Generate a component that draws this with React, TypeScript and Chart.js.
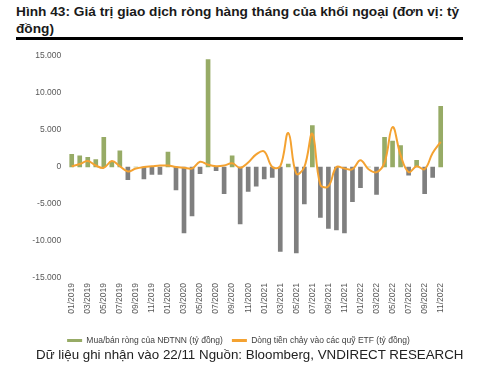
import React, { useEffect, useRef } from "react";
import { Chart, registerables } from "chart.js";

Chart.register(...registerables);

const months: string[] = [];
for (let y = 2019; y <= 2022; y++) {
  for (let m = 1; m <= 12; m++) {
    if (y === 2022 && m > 11) break;
    months.push(`${String(m).padStart(2, "0")}/${y}`);
  }
}

const netForeign = [
  1700, 1500, 1300, 1000, 4000, 700, 2200, -1700, 0, -1600, -1000, -1000,
  2000, -3100, -8900, -6600, -900, 14500, -500, -3600, 1500, -7700, -3300, -2600,
  -1600, -1400, -11400, 400, -11600, -5000, 5600, -6800, -8300, -8500, -8900, -4700,
  -2800, 0, -3700, 4000, 3500, 2900, -1100, 900, -3600, -1400, 8200,
];

const etfFlow = [
  100, 400, 800, 200, -100, 800, 100, -600, -200, 0, 100, 200,
  200, 0, -100, -200, 700, 300, 100, 200, 500, -100, 600, 1700,
  2100, 0, 100, 4600, -900, 0, 4500, -2400, -2600, 0, -200, -300,
  900, -300, -700, 600, 5400, 1600, -700, 100, -300, 1900, 3400,
];

const yTicks = [-15000, -10000, -5000, 0, 5000, 10000, 15000];

const seriesNames = [
  "Mua/bán ròng của NĐTNN (tỷ đồng)",
  "Dòng tiền chảy vào các quỹ ETF (tỷ đồng)",
];

const GREEN = "#97AB66";
const GRAY = "#7F7F7F";
const ORANGE = "#F4A231";
const FONT = "'Liberation Sans', Arial, sans-serif";

function fmt(v: number) {
  const s = Math.abs(v).toString().replace(/\B(?=(\d{3})+(?!\d))/g, ".");
  return v < 0 ? "-" + s : s;
}

export default function App() {
  const ref = useRef<HTMLCanvasElement>(null);
  useEffect(() => {
    document.body.style.margin = "0";
    const ctx = ref.current!;
    const chart = new Chart(ctx, {
      data: {
        labels: months,
        datasets: [
          {
            type: "line",
            label: seriesNames[1],
            data: etfFlow,
            borderColor: ORANGE,
            backgroundColor: ORANGE,
            borderWidth: 2,
            pointRadius: 0,
            tension: 0.4,
            order: 0,
          },
          {
            type: "bar",
            label: seriesNames[0],
            data: netForeign,
            backgroundColor: netForeign.map((v) => (v >= 0 ? GREEN : GRAY)),
            barThickness: 4,
            order: 1,
          },
        ],
      },
      options: {
        animation: false,
        responsive: false,
        layout: { padding: { top: 12, right: 33.3, bottom: 5.25, left: 32.3 } },
        plugins: {
          tooltip: { enabled: false },
          legend: {
            position: "bottom",
            reverse: true,
            labels: {
              font: { family: FONT, size: 8.5 },
              color: "#404040",
              boxWidth: 15,
              boxHeight: 3,
              padding: 9,
              generateLabels: (c: any) =>
                c.data.datasets.map((d: any, i: number) => ({
                  text: d.label,
                  fillStyle: i === 1 ? GREEN : ORANGE,
                  strokeStyle: i === 1 ? GREEN : ORANGE,
                  lineWidth: 0,
                  datasetIndex: i,
                  fontColor: "#404040",
                })),
            },
          },
        },
        scales: {
          x: {
            grid: { display: false, drawTicks: false },
            border: { display: false },
            ticks: {
              autoSkip: false,
              minRotation: 90,
              maxRotation: 90,
              padding: 5,
              font: { family: FONT, size: 8.5 },
              color: "#595959",
              callback: (_v: any, i: number) => (i % 2 === 0 ? months[i] : ""),
            },
            afterFit: (s: any) => {
              s.height = 49.25;
            },
          },
          y: {
            min: -15000,
            max: 15000,
            grid: { display: false, drawTicks: false },
            border: { display: false },
            afterBuildTicks: (s: any) => {
              s.ticks = yTicks.map((v) => ({ value: v }));
            },
            ticks: {
              padding: 6.5,
              font: { family: FONT, size: 8.5 },
              color: "#595959",
              callback: (v: any) => fmt(Number(v)),
            },
            afterFit: (s: any) => {
              s.width = 35.4;
            },
          },
        },
      },
    } as any);
    return () => chart.destroy();
  }, []);

  return (
    <div style={{ position: "relative", width: 478, height: 365, background: "#fff", overflow: "hidden" }}>
      <div
        style={{
          position: "absolute",
          left: 16,
          top: 4,
          width: 450,
          fontFamily: FONT,
          fontWeight: "bold",
          fontSize: 13.7,
          lineHeight: "16.5px",
          color: "#1a1a1a",
        }}
      >
        Hình 43: Giá trị giao dịch ròng hàng tháng của khối ngoại (đơn vị: tỷ đồng)
      </div>
      <div style={{ position: "absolute", left: 16, top: 37, width: 447, height: 3, background: "#000" }} />
      <canvas ref={ref} width={478} height={316} style={{ position: "absolute", left: 0, top: 44 }} />
      <div
        style={{
          position: "absolute",
          left: 36,
          top: 347,
          fontFamily: FONT,
          fontSize: 13.35,
          color: "#222",
          whiteSpace: "nowrap",
        }}
      >
        Dữ liệu ghi nhận vào 22/11 Nguồn: Bloomberg, VNDIRECT RESEARCH
      </div>
    </div>
  );
}
